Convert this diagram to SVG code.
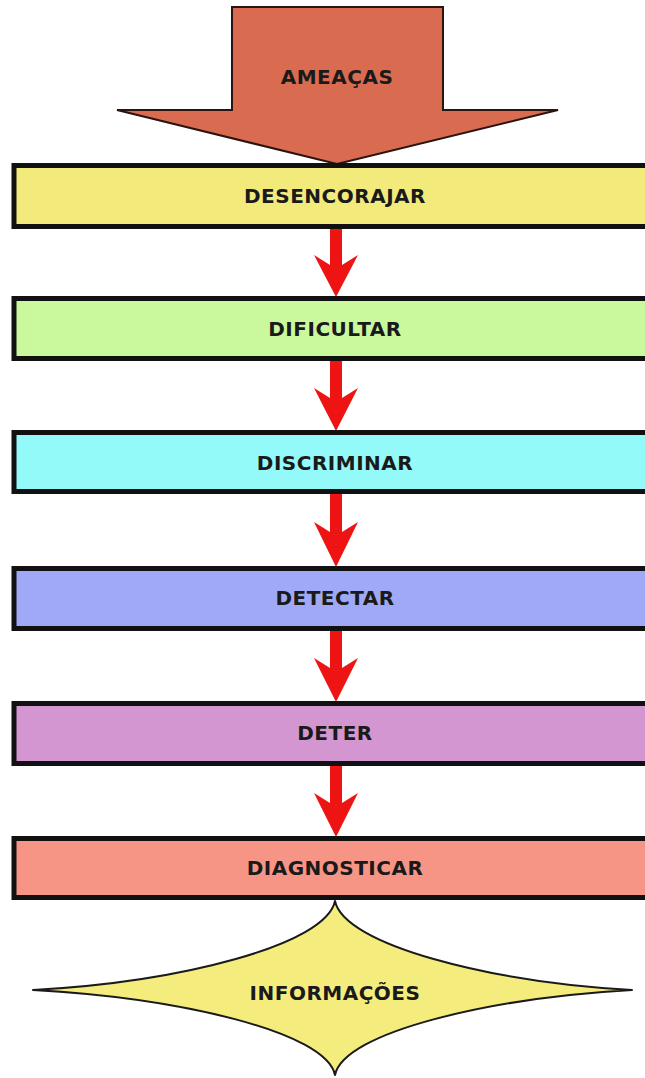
<svg xmlns="http://www.w3.org/2000/svg" width="645" height="1078" viewBox="0 0 645 1078">
  <style>
    .box { stroke: #111; stroke-width: 5; }
    .lbl { font-family: "DejaVu Sans", Verdana, sans-serif; font-weight: bold; font-size: 20px; letter-spacing: 0.5px; fill: #1a1a1a; text-anchor: middle; }
    .arrow { fill: #EE1414; }
  </style>
  <rect width="645" height="1078" fill="#ffffff"/>

  <!-- red flow arrows between stages -->
  <g id="connectors">
    <path class="arrow" d="M330 227 L342 227 L342 265 L358 255 L336 297 L314 255 L330 265 Z"/>
    <path class="arrow" d="M330 359 L342 359 L342 398 L358 388 L336 431 L314 388 L330 398 Z"/>
    <path class="arrow" d="M330 492 L342 492 L342 532 L358 522 L336 567 L314 522 L330 532 Z"/>
    <path class="arrow" d="M330 629 L342 629 L342 668 L358 658 L336 702 L314 658 L330 668 Z"/>
    <path class="arrow" d="M330 764 L342 764 L342 803 L358 793 L336 837 L314 793 L330 803 Z"/>
  </g>

  <g id="ameacas">
    <path d="M232 7 L443 7 L443 110 L558 110 L337 164 L117 110 L232 110 Z" fill="#D96B51" stroke="#2a1410" stroke-width="2" stroke-linejoin="miter"/>
    <text class="lbl" x="337" y="84">AMEAÇAS</text>
  </g>

  <g id="desencorajar">
    <rect class="box" x="14" y="165.5" width="700" height="61" fill="#F2EB7C"/>
    <text class="lbl" x="335" y="203">DESENCORAJAR</text>
  </g>

  <g id="dificultar">
    <rect class="box" x="14" y="298.5" width="700" height="60" fill="#C9F99C"/>
    <text class="lbl" x="335" y="336">DIFICULTAR</text>
  </g>

  <g id="discriminar">
    <rect class="box" x="14" y="432.5" width="700" height="59" fill="#93FAF9"/>
    <text class="lbl" x="335" y="470">DISCRIMINAR</text>
  </g>

  <g id="detectar">
    <rect class="box" x="14" y="568.5" width="700" height="60" fill="#A0A9F8"/>
    <text class="lbl" x="335" y="605">DETECTAR</text>
  </g>

  <g id="deter">
    <rect class="box" x="14" y="703.5" width="700" height="60" fill="#D396D0"/>
    <text class="lbl" x="335" y="740">DETER</text>
  </g>

  <g id="diagnosticar">
    <rect class="box" x="14" y="838.5" width="700" height="59" fill="#F69585"/>
    <text class="lbl" x="335" y="875">DIAGNOSTICAR</text>
  </g>

  <g id="informacoes">
    <path d="M335 901
             C326 945 180 982 33 990
             C180 998 326 1032 335 1075
             C344 1032 490 998 632 990
             C490 982 344 945 335 901 Z"
          fill="#F5EC7E" stroke="#1a1a1a" stroke-width="2" stroke-linejoin="round"/>
    <text class="lbl" x="335" y="1000">INFORMAÇÕES</text>
  </g>
</svg>
